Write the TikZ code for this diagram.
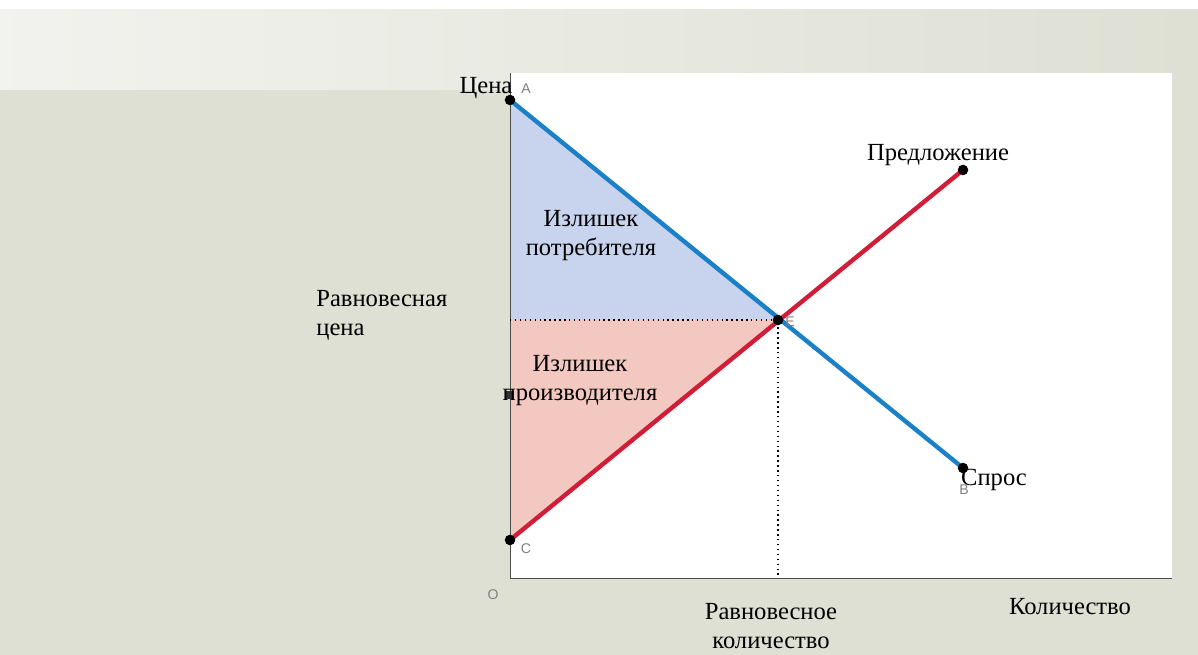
\documentclass[tikz,border=0pt]{standalone}
\usepackage{fontspec}
\setmainfont{Liberation Serif}
\setsansfont{Liberation Sans}
\usepackage{tikz}
\definecolor{fond}{RGB}{222,224,212}
\definecolor{bleu}{RGB}{26,128,200}
\definecolor{rouge}{RGB}{208,30,56}
\definecolor{bleuclair}{RGB}{200,212,238}
\definecolor{rougeclair}{RGB}{242,200,192}
\tikzset{
  txt/.style={font=\fontsize{14}{16.5}\selectfont,inner sep=0pt},
  lettre/.style={font=\sffamily\fontsize{8}{9}\selectfont,text=gray,inner sep=0pt},
  point/.style={circle,fill=black,inner sep=0pt,minimum size=6pt},
  pointillé/.style={dotted,thick}
}
\begin{document}
\begin{tikzpicture}[x=0.02cm,y=-0.02cm]
   \useasboundingbox (0,0) rectangle (1198,655);
   % fond
   \fill[fond] (0,10) rectangle (1198,655);
   \shade[left color=white!60!fond,right color=fond] (0,10) rectangle (1198,90);
   \fill[white] (510,73) rectangle (1172,578);

   \coordinate (O) at (510,578);
   \coordinate (haut) at (510,73);
   \coordinate (droite) at (1172,578);
   \coordinate (A) at (510,100);
   \coordinate (E) at (778,320);
   \coordinate (B) at (963,468);
   \coordinate (C) at (510,540);
   \coordinate (S) at (963,170);
   \coordinate (P) at (510,320);
   \coordinate (Q) at (778,578);

   % surplus
   \fill[bleuclair] (A) -- (E) -- (P) -- cycle;
   \fill[rougeclair] (P) -- (E) -- (C) -- cycle;

   % axes
   \draw[black!70] (haut) -- (O) -- (droite);
   \draw[pointillé] (P) -- (E) -- (Q);

   % courbes
   \draw[bleu,line width=2.5pt] (A) -- (B);
   \draw[rouge,line width=2.5pt] (C) -- (S);

   \node[point] (pA) at (A) {};
   \node[point] (pE) at (E) {};
   \node[point] (pB) at (B) {};
   \node[point] (pC) at (C) {};
   \node[point] (pS) at (S) {};
   \node[fill=black!80,inner sep=0pt,minimum size=5pt] (pM) at (510,395) {};

   \node[txt] (cena) at (486,88) {Цена};
   \node[lettre] (lA) at (526,89) {A};
   \node[lettre] (lE) at (790,322) {E};
   \node[lettre] (lB) at (964,490) {B};
   \node[lettre] (lC) at (526,549) {C};
   \node[lettre] (lO) at (493,595) {O};

   \node[txt] (pred) at (938,155) {Предложение};
   \node[txt] (spros) at (994,480) {Спрос};
   \node[txt,align=left,anchor=west] (rc) at (316,315) {Равновесная\\цена};
   \node[txt,align=center] (rq) at (771,626) {Равновесное\\количество};
   \node[txt] (kol) at (1070,607) {Количество};
   \node[txt,align=center] (ip) at (591,236) {Излишек\\потребителя};
   \node[txt,align=center] (ipr) at (580,381) {Излишек\\производителя};
\end{tikzpicture}
\end{document}
